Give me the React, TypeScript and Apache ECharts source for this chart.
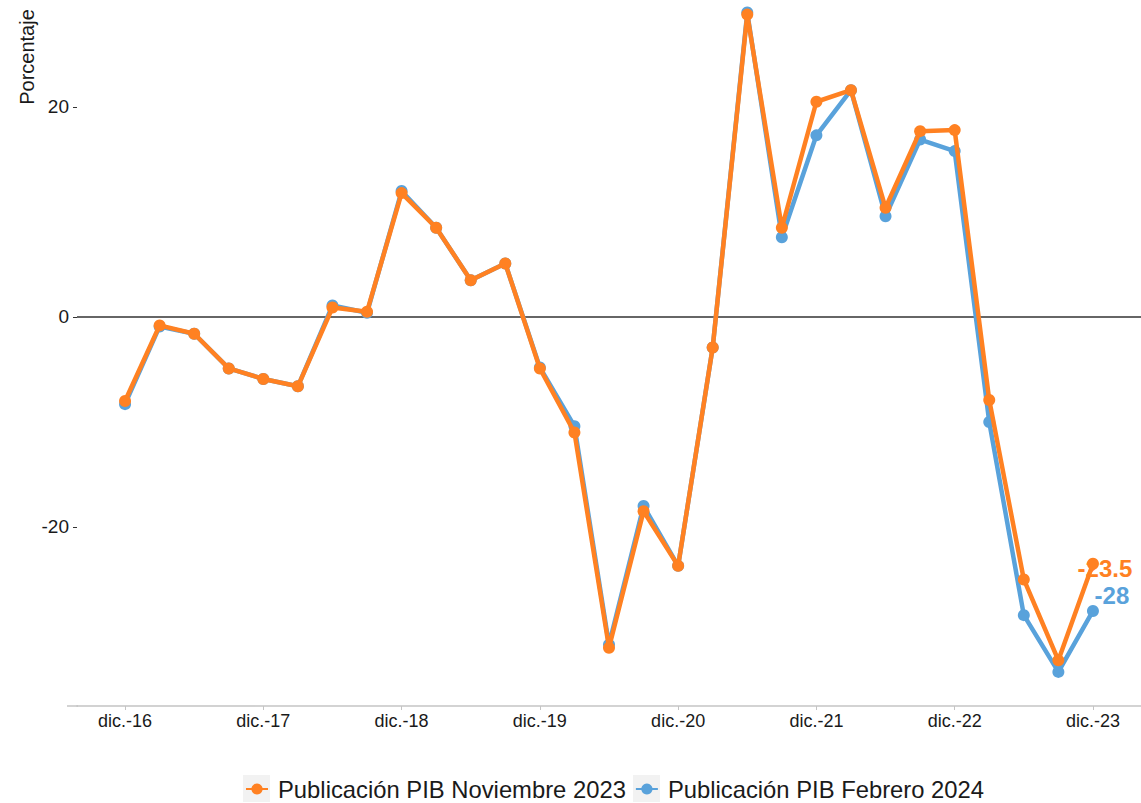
import React, { useEffect, useRef } from "react";
import * as echarts from "echarts";

const periods: string[] = [
  "dic.-16", "mar.-17", "jun.-17", "sep.-17", "dic.-17", "mar.-18", "jun.-18", "sep.-18",
  "dic.-18", "mar.-19", "jun.-19", "sep.-19", "dic.-19", "mar.-20", "jun.-20", "sep.-20",
  "dic.-20", "mar.-21", "jun.-21", "sep.-21", "dic.-21", "mar.-22", "jun.-22", "sep.-22",
  "dic.-22", "mar.-23", "jun.-23", "sep.-23", "dic.-23",
];

const novSeriesName = "Publicación PIB Noviembre 2023";
const febSeriesName = "Publicación PIB Febrero 2024";

const novValues: number[] = [
  -8.0, -0.8, -1.6, -4.9, -5.9, -6.6, 0.9, 0.5,
  11.8, 8.5, 3.5, 5.1, -4.9, -11.0, -31.5, -18.5,
  -23.7, -2.9, 28.8, 8.5, 20.5, 21.6, 10.4, 17.7,
  17.8, -7.9, -25.0, -32.7, -23.5,
];

const febValues: number[] = [
  -8.3, -0.9, -1.6, -4.9, -5.9, -6.6, 1.1, 0.4,
  12.0, 8.5, 3.5, 5.1, -4.8, -10.4, -31.2, -18.0,
  -23.7, -2.9, 29.0, 7.6, 17.3, 21.6, 9.6, 16.9,
  15.8, -10.0, -28.4, -33.8, -28.0,
];

const xTickIndices: number[] = [0, 4, 8, 12, 16, 20, 24, 28];
const yTickValues: number[] = [-20, 0, 20];

const ORANGE = "#ff8122";
const BLUE = "#59a2db";
const FONT = "'Liberation Sans', Arial, Helvetica, sans-serif";

export default function App() {
  const ref = useRef<HTMLDivElement>(null);

  useEffect(() => {
    if (!ref.current) return;
    const chart = echarts.init(ref.current, undefined, { renderer: "svg" });

    const mk = (vals: number[], color: string, label: string, offset: number[]) =>
      vals.map((v, i) => {
        if (i === vals.length - 1) {
          return {
            value: [i, v],
            label: {
              show: true,
              position: "inside",
              formatter: label,
              color,
              fontSize: 24,
              fontWeight: "bold",
              fontFamily: FONT,
              offset,
            },
          };
        }
        return { value: [i, v] };
      });

    chart.setOption({
      animation: false,
      grid: { left: 77, right: 0, top: 0, bottom: 97, containLabel: false },
      legend: {
        left: 240,
        top: 772,
        itemWidth: 22,
        itemHeight: 14,
        itemGap: 9,
        textStyle: { fontSize: 23.8, color: "#1a1a1a", fontFamily: FONT, padding: [0, 0, 0, 5] },
        data: [novSeriesName, febSeriesName],
      },
      graphic: [
        {
          type: "rect",
          shape: { x: 243, y: 775, width: 27, height: 27 },
          style: { fill: "#f2f2f2" },
          z: -1,
        },
        {
          type: "rect",
          shape: { x: 633, y: 775, width: 27, height: 27 },
          style: { fill: "#f2f2f2" },
          z: -1,
        },
        {
          type: "line",
          shape: { x1: 67, y1: 706, x2: 78, y2: 706 },
          style: { stroke: "#c4c4c4", lineWidth: 1.5 },
        },
        {
          type: "text",
          x: 27,
          y: 57,
          rotation: Math.PI / 2,
          style: {
            text: "Porcentaje",
            fontSize: 20,
            fontFamily: FONT,
            fill: "#1a1a1a",
            align: "center",
            verticalAlign: "middle",
          },
        },
      ],
      xAxis: {
        type: "value",
        min: -1.39,
        max: 29.39,
        splitLine: { show: false },
        axisLine: { show: true, onZero: false, lineStyle: { color: "#c4c4c4", width: 1.5 } },
        axisTick: {
          show: true,
          customValues: xTickIndices,
          length: 4,
          lineStyle: { color: "#c4c4c4" },
        },
        axisLabel: {
          customValues: xTickIndices,
          formatter: (v: number) => periods[Math.round(v)] ?? "",
          fontSize: 18,
          color: "#1a1a1a",
          fontFamily: FONT,
          margin: 6,
        },
      },
      yAxis: {
        type: "value",
        min: -37.05,
        max: 30.19,
        splitLine: { show: false },
        axisLine: { show: false, onZero: false },
        axisTick: {
          show: true,
          customValues: yTickValues,
          length: 4,
          lineStyle: { color: "#333" },
        },
        axisLabel: {
          customValues: yTickValues,
          fontSize: 19,
          color: "#1a1a1a",
          fontFamily: FONT,
          margin: 8,
        },
      },
      series: [
        {
          name: febSeriesName,
          type: "line",
          data: mk(febValues, BLUE, "-28", [19, -15]),
          color: BLUE,
          lineStyle: { width: 4.5, color: BLUE },
          symbol: "circle",
          symbolSize: 12,
          itemStyle: { color: BLUE },
          emphasis: { disabled: true },
          z: 2,
          markLine: {
            silent: true,
            symbol: "none",
            label: { show: false },
            lineStyle: { color: "#333", width: 1.5, type: "solid" },
            data: [{ yAxis: 0 }],
            z: 1,
          },
        },
        {
          name: novSeriesName,
          type: "line",
          data: mk(novValues, ORANGE, "-23.5", [12, 5]),
          color: ORANGE,
          lineStyle: { width: 4.5, color: ORANGE },
          symbol: "circle",
          symbolSize: 12,
          itemStyle: { color: ORANGE },
          emphasis: { disabled: true },
          z: 3,
        },
      ],
    });

    return () => chart.dispose();
  }, []);

  return (
    <div
      ref={ref}
      style={{ position: "fixed", left: 0, top: 0, width: 1141, height: 803, background: "#fff" }}
    />
  );
}
